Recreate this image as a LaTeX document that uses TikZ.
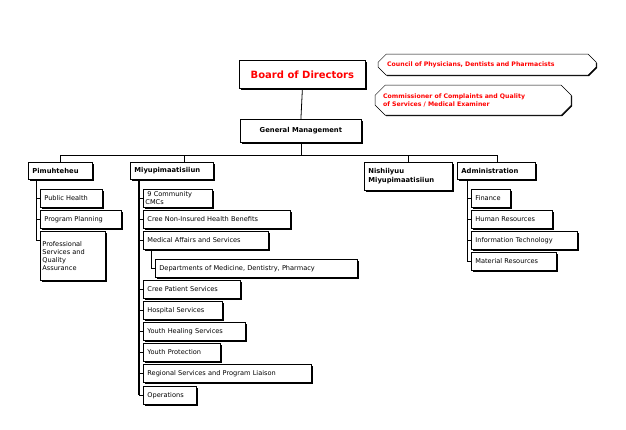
\documentclass[tikz,border=0pt]{standalone}
\usepackage{fontspec}
\setmainfont{DejaVu Sans}
\usetikzlibrary{shadows,shapes.misc}
\begin{document}
\begin{tikzpicture}[x=1pt,y=-1pt,
  box/.style={draw,fill=white,line width=0.8pt,anchor=north west,inner sep=0pt,
    minimum height=18pt,align=left,font=\fontsize{6.6}{8}\selectfont,
    drop shadow={shadow xshift=1.2pt,shadow yshift=-1.2pt,fill=black,opacity=1}},
  head/.style={box,font=\fontsize{6.8}{8.6}\selectfont\bfseries},
  red/.style={draw,fill=white,chamfered rectangle,chamfered rectangle xsep=5pt,chamfered rectangle ysep=5pt,
    anchor=north west,inner sep=0pt,text=red,font=\fontsize{6.2}{7.6}\selectfont\bfseries,align=left,
    drop shadow={shadow xshift=1pt,shadow yshift=-1pt,fill=black,opacity=1}},
  ln/.style={line width=0.8pt},
  tk/.style={line width=1.6pt}]
\useasboundingbox (0,0) rectangle (626,429);
\node[box,minimum width=126pt,minimum height=28pt,align=center,text=red,font=\fontsize{10}{12}\selectfont\bfseries] (bod) at (239,60) {Board of Directors};
\node[red,minimum width=218pt,minimum height=21pt,text width=200pt] (cou) at (382,58) {Council of Physicians, Dentists and Pharmacists};
\node[red,minimum width=196pt,minimum height=30pt,text width=180pt] (com) at (380,90) {Commissioner of Complaints and Quality\\of Services / Medical Examiner};
\node[head,minimum width=121pt,minimum height=23pt,align=center] (gm) at (240,119) {General Management};
\draw[ln] (bod.south) -- (gm.north);
\node[head,minimum width=64pt,minimum height=17pt,text width=60pt] (pim) at (28,162) {\hspace{2pt}Pimuhteheu};
\node[head,minimum width=83pt,minimum height=17pt,text width=79pt] (miy) at (130,162) {\hspace{2pt}Miyupimaatisiiun};
\node[head,minimum width=88pt,minimum height=28pt,text width=84pt] (nis) at (364,162) {\hspace{2pt}Nishiiyuu\\\hspace{2pt}Miyupimaatisiiun};
\node[head,minimum width=78pt,minimum height=17pt,text width=74pt] (adm) at (457,162) {\hspace{2pt}Administration};
\coordinate (bus) at (gm.south |- 0,155);
\draw[ln] (gm.south) -- (bus);
\draw[ln] (pim.north -| 60,0) -- (60,155) -- (497,155) -- (adm.north -| 497,0);
\draw[ln] (184,155) -- (miy.north -| 184,0);
\draw[ln] (408,155) -- (nis.north -| 408,0);
% Pimuhteheu children
\node[box,minimum width=62pt,text width=58pt] (ph) at (40,189) {\hspace{2pt}Public Health};
\node[box,minimum width=81pt,text width=77pt] (pp) at (40,210) {\hspace{2pt}Program Planning};
\node[box,minimum width=65pt,minimum height=49pt,text width=61pt,anchor=north west,inner sep=2pt] (pq) at (40,231) {Professional\\Services and\\Quality\\Assurance};
\draw[ln] (36,179) -- (36,240) -- (pq.west |- 0,240);
\foreach \n in {ph,pp} \draw[ln] (36,0 |- \n.west) -- (\n.west);
% Miyup children
\foreach \n/\y/\w/\t in {c9/189/69/9 Community CMCs, nihb/210/147/Cree Non-Insured Health Benefits, mas/231/125/Medical Affairs and Services, cps/280/97/Cree Patient Services, hos/301/79/Hospital Services, yhs/322/102/Youth Healing Services, yp/343/77/Youth Protection, rs/364/168/Regional Services and Program Liaison, ops/386/53/Operations}
  {\node[box,minimum width=\w pt,text width=\w pt - 4pt] (\n) at (143,\y) {\hspace{2pt}\t};
   \draw[ln] (139,0 |- \n.west) -- (\n.west);}
\draw[tk] (139,179) -- (139,0 |- ops.west);
\node[box,minimum width=202pt,text width=198pt] (dep) at (155,259) {\hspace{2pt}Departments of Medicine, Dentistry, Pharmacy};
\draw[ln] (151,0 |- mas.south) -- (151,0 |- dep.west) -- (dep.west);
% Admin children
\foreach \n/\y/\w/\t in {fin/189/39/Finance, hr/210/81/Human Resources, it/231/106/Information Technology, mr/252/85/Material Resources}
  {\node[box,minimum width=\w pt,text width=\w pt - 4pt] (\n) at (471,\y) {\hspace{2pt}\t};
   \draw[ln] (467,0 |- \n.west) -- (\n.west);}
\draw[ln] (467,179) -- (467,0 |- mr.west);
\end{tikzpicture}
\end{document}
